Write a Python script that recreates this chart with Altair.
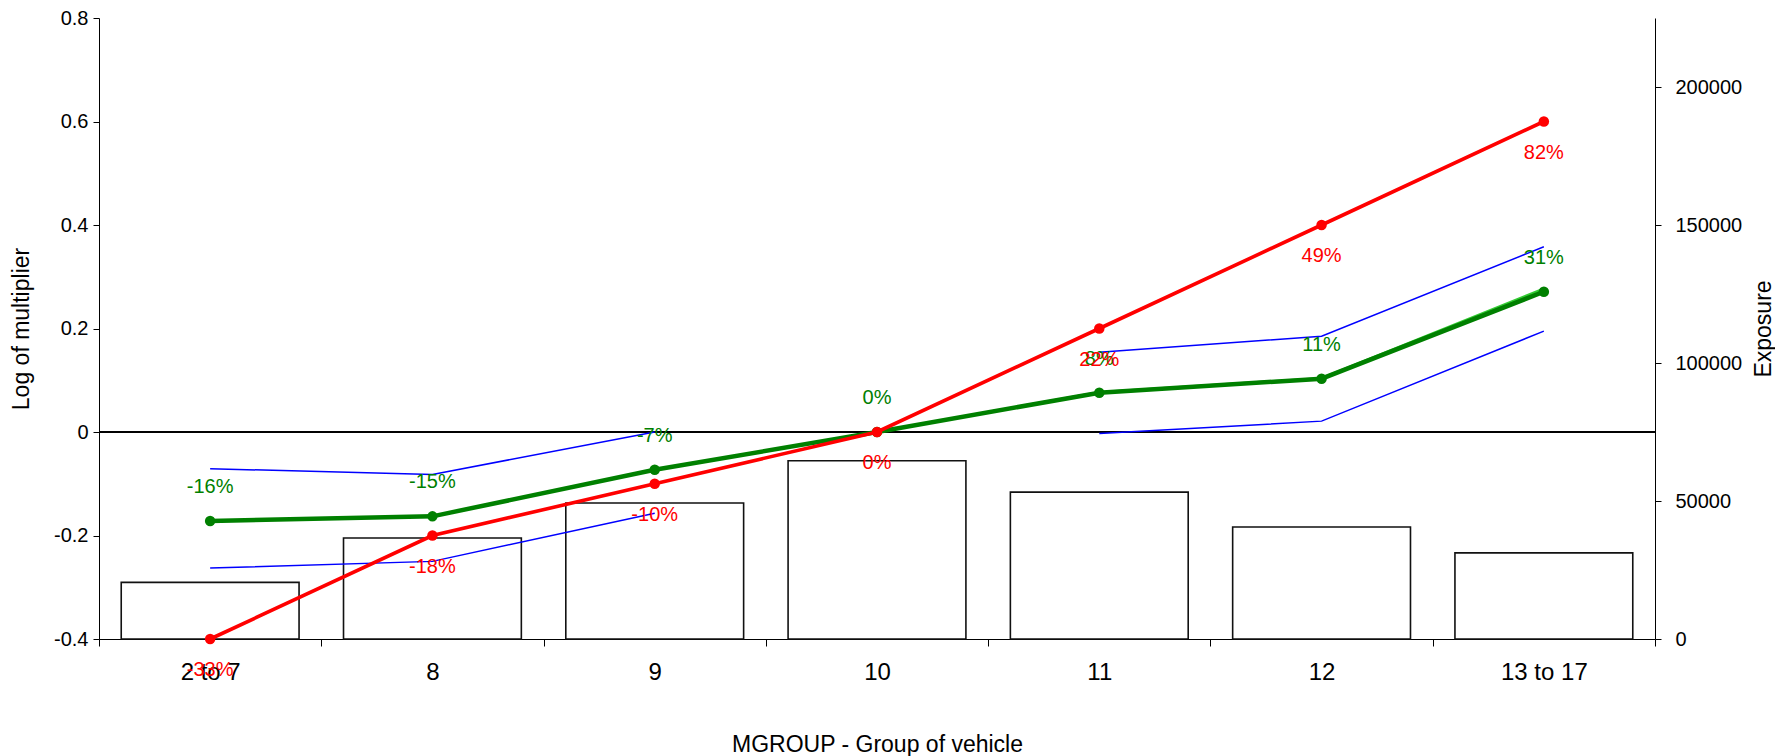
import altair as alt
import pandas as pd

categories = ["2 to 7", "8", "9", "10", "11", "12", "13 to 17"]
exposure = [20500, 36600, 49300, 64600, 53200, 40600, 31200]
red_vals = [-0.40, -0.20, -0.10, 0.0, 0.20, 0.40, 0.60]
red_labels = ["-33%", "-18%", "-10%", "0%", "22%", "49%", "82%"]
green_vals = [-0.172, -0.163, -0.073, 0.0, 0.076, 0.103, 0.271]
green_labels = ["-16%", "-15%", "-7%", "0%", "8%", "11%", "31%"]
lightgreen_vals = [-0.172, -0.163, -0.073, 0.0, 0.077, 0.104, 0.277]
upper_vals = [-0.071, -0.082, 0.0, None, 0.154, 0.185, 0.358]
lower_vals = [-0.263, -0.250, -0.157, None, -0.003, 0.021, 0.195]

df = pd.DataFrame({
    "cat": categories,
    "exposure": exposure,
    "red": red_vals,
    "green": green_vals,
    "lightgreen": lightgreen_vals,
    "red_label": red_labels,
    "green_label": green_labels,
})

rows = []
for name, vals in (("upper", upper_vals), ("lower", lower_vals)):
    seg = 0
    for c, v in zip(categories, vals):
        if v is None:
            seg += 1
            continue
        rows.append({"cat": c, "val": v, "seg": f"{name}{seg}"})
df_blue = pd.DataFrame(rows)

FONT = "Liberation Sans"

x_enc = alt.X(
    "cat:N",
    sort=categories,
    scale=alt.Scale(paddingInner=0, paddingOuter=0),
    axis=alt.Axis(
        title="MGROUP - Group of vehicle",
        labelAngle=0,
        tickBand="extent",
        tickSize=7,
        labelPadding=14,
        labelFontSize=24,
        titleFontSize=23,
        titleFontWeight="normal",
        titlePadding=49,
        domainColor="black",
        tickColor="black",
        labelColor="black",
        titleColor="black",
        grid=False,
    ),
)

y_scale = alt.Scale(domain=[-0.4, 0.8], nice=False, zero=False)
y_axis = alt.Axis(
    orient="left",
    title="Log of multiplier",
    values=[-0.4, -0.2, 0, 0.2, 0.4, 0.6, 0.8],
    labelExpr="'' + datum.value",
    tickSize=6,
    labelPadding=5,
    labelFontSize=20,
    titleFontSize=23,
    titleFontWeight="normal",
    titlePadding=20,
    domainColor="black",
    tickColor="black",
    labelColor="black",
    titleColor="black",
    grid=False,
)


def Y(field):
    return alt.Y(f"{field}:Q", scale=y_scale, axis=y_axis)


bars = alt.Chart(df).mark_bar(
    fill="white", stroke="#111111", strokeWidth=1.6, width=alt.RelativeBandSize(0.8)
).encode(
    x=x_enc,
    y=alt.Y(
        "exposure:Q",
        scale=alt.Scale(domain=[0, 225000], nice=False),
        axis=alt.Axis(
            orient="right",
            title="Exposure",
            values=[0, 50000, 100000, 150000, 200000],
            format="d",
            tickSize=6,
            labelPadding=14,
            labelFontSize=20,
            titleFontSize=23,
            titleFontWeight="normal",
            titleAngle=270,
            titlePadding=34,
            domainColor="black",
            tickColor="black",
            labelColor="black",
            titleColor="black",
            grid=False,
        ),
    ),
)

zero_rule = alt.Chart(df).mark_rule(color="black", strokeWidth=1.2).encode(
    y=alt.datum(0, scale=y_scale, axis=y_axis)
)

blue = alt.Chart(df_blue).mark_line(color="#0000ff", strokeWidth=1.5).encode(
    x=x_enc, y=Y("val"), detail="seg:N"
)

lightgreen_line = alt.Chart(df).mark_line(color="#33cc33", strokeWidth=2.5).encode(
    x=x_enc, y=Y("lightgreen")
)
green_line = alt.Chart(df).mark_line(color="#008000", strokeWidth=4.5).encode(
    x=x_enc, y=Y("green")
)
green_pts = alt.Chart(df).mark_circle(color="#008000", size=110, opacity=1).encode(
    x=x_enc, y=Y("green")
)
green_text = alt.Chart(df).mark_text(
    color="#008000", fontSize=20, dy=-34, baseline="middle", font=FONT
).encode(x=x_enc, y=Y("green"), text="green_label:N")

red_line = alt.Chart(df).mark_line(color="#ff0000", strokeWidth=3.6).encode(
    x=x_enc, y=Y("red")
)
red_pts = alt.Chart(df).mark_circle(color="#ff0000", size=110, opacity=1).encode(
    x=x_enc, y=Y("red")
)
red_text = alt.Chart(df).mark_text(
    color="#ff0000", fontSize=20, dy=31, baseline="middle", font=FONT
).encode(x=x_enc, y=Y("red"), text="red_label:N")

left = alt.layer(
    zero_rule, blue, lightgreen_line, green_line, green_pts, red_line, red_pts,
    green_text, red_text,
)

chart = (
    alt.layer(bars, left)
    .resolve_scale(y="independent")
    .properties(
        width=1556,
        height=621,
        padding={"left": 91, "top": 10, "right": 120, "bottom": 118},
        autosize=alt.AutoSizeParams(type="none"),
        background="white",
    )
    .configure(font=FONT)
    .configure_view(stroke=None)
)

chart.save("out.html", embed_options={"renderer": "svg", "actions": False})
